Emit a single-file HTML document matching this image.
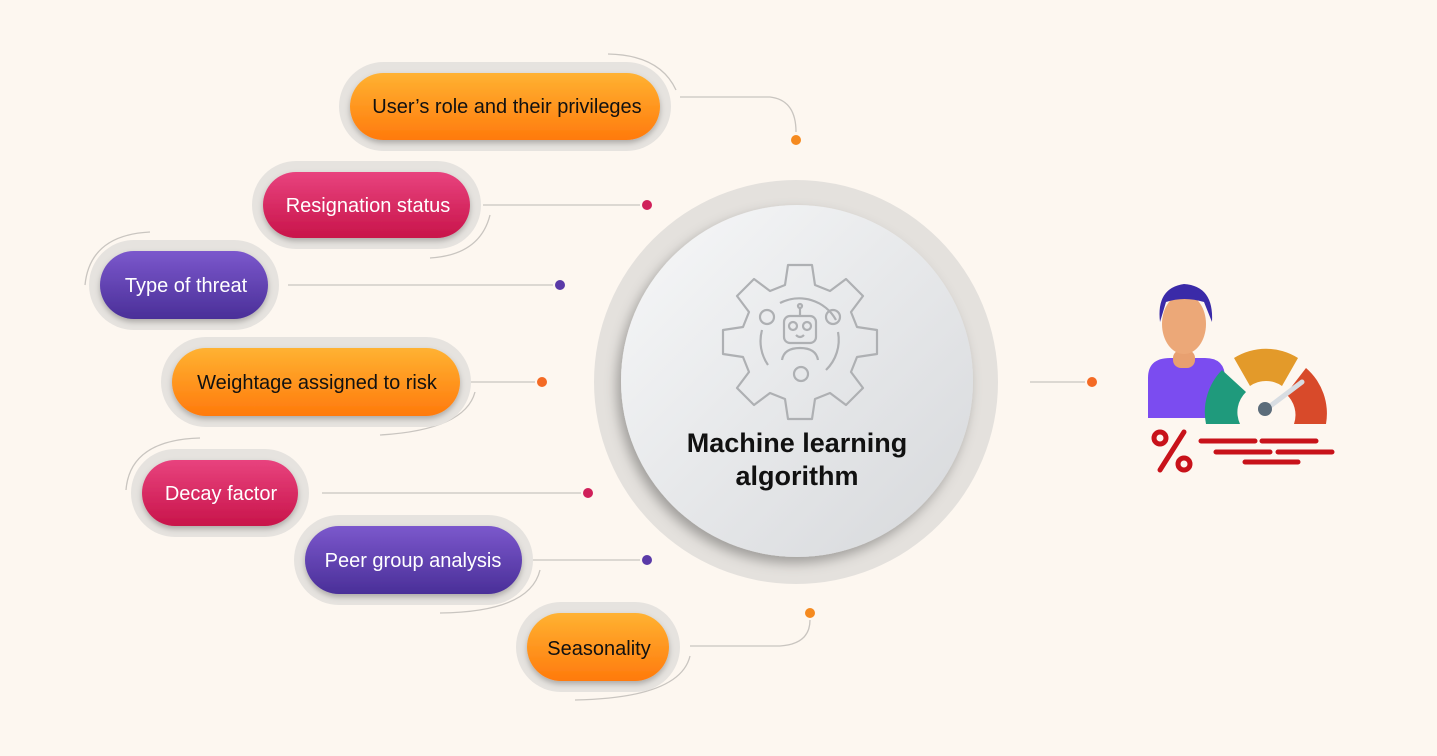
<!DOCTYPE html>
<html><head><meta charset="utf-8"><style>
html,body{margin:0;padding:0;background:#fdf7f0;}
svg{display:block}
text{font-family:"Liberation Sans",sans-serif;}
</style></head><body>
<svg width="1437" height="756" viewBox="0 0 1437 756" xmlns="http://www.w3.org/2000/svg">
<defs>
<linearGradient id="or" x1="0" y1="0" x2="0" y2="1"><stop offset="0" stop-color="#ffb232"/><stop offset="1" stop-color="#ff7a0c"/></linearGradient>
<linearGradient id="pk" x1="0" y1="0" x2="0" y2="1"><stop offset="0" stop-color="#e8437e"/><stop offset="1" stop-color="#c8144a"/></linearGradient>
<linearGradient id="pu" x1="0" y1="0" x2="0" y2="1"><stop offset="0" stop-color="#7b58cc"/><stop offset="1" stop-color="#4a2f98"/></linearGradient>
<linearGradient id="cg" x1="0" y1="0" x2="1" y2="1"><stop offset="0" stop-color="#f7f8f9"/><stop offset="1" stop-color="#d6d8db"/></linearGradient>
<filter id="sh" x="-20%" y="-20%" width="140%" height="150%"><feDropShadow dx="0" dy="3" stdDeviation="3" flood-color="#000" flood-opacity="0.25"/></filter>
<filter id="sh2" x="-20%" y="-20%" width="140%" height="140%"><feDropShadow dx="-4" dy="6" stdDeviation="6" flood-color="#000" flood-opacity="0.3"/></filter>
</defs>

<g fill="none" stroke="#c9c5c0" stroke-width="1.3">
<path d="M680 97 H770 Q796 100 796 132"/>
<path d="M608 54 Q660 55 676 90"/>
<path d="M483 205 H640"/>
<path d="M490 215 Q480 255 430 258"/>
<path d="M288 285 H553"/>
<path d="M85 285 Q90 235 150 232"/>
<path d="M465 382 H535"/>
<path d="M475 392 Q465 430 380 435"/>
<path d="M322 493 H581"/>
<path d="M126 490 Q130 440 200 438"/>
<path d="M530 560 H640"/>
<path d="M540 570 Q530 612 440 613"/>
<path d="M690 646 H780 Q810 644 810 620"/>
<path d="M690 656 Q680 698 575 700"/>
<path d="M1030 382 H1085"/>
</g>
<g>
<circle cx="796" cy="140" r="5" fill="#f58a1f"/>
<circle cx="647" cy="205" r="5" fill="#d0205a"/>
<circle cx="560" cy="285" r="5" fill="#5a3aa8"/>
<circle cx="542" cy="382" r="5" fill="#f46a24"/>
<circle cx="588" cy="493" r="5" fill="#d0205a"/>
<circle cx="647" cy="560" r="5" fill="#5a3aa8"/>
<circle cx="810" cy="613" r="5" fill="#f58a1f"/>
<circle cx="1092" cy="382" r="5" fill="#f46a24"/>
</g>

<g>
<rect x="339" y="62" width="332" height="89" rx="44.5" fill="#e6e3df"/>
<rect x="350" y="73" width="310" height="67" rx="33.5" fill="url(#or)" filter="url(#sh)"/>
<text x="507" y="113" font-size="20" text-anchor="middle" fill="#111">User’s role and their privileges</text>

<rect x="252" y="161" width="229" height="88" rx="44" fill="#e6e3df"/>
<rect x="263" y="172" width="207" height="66" rx="33" fill="url(#pk)" filter="url(#sh)"/>
<text x="368" y="212" font-size="20" text-anchor="middle" fill="#fff">Resignation status</text>

<rect x="89" y="240" width="190" height="90" rx="45" fill="#e6e3df"/>
<rect x="100" y="251" width="168" height="68" rx="34" fill="url(#pu)" filter="url(#sh)"/>
<text x="186" y="292" font-size="20" text-anchor="middle" fill="#fff">Type of threat</text>

<rect x="161" y="337" width="310" height="90" rx="45" fill="#e6e3df"/>
<rect x="172" y="348" width="288" height="68" rx="34" fill="url(#or)" filter="url(#sh)"/>
<text x="317" y="389" font-size="20" text-anchor="middle" fill="#111">Weightage assigned to risk</text>

<rect x="131" y="449" width="178" height="88" rx="44" fill="#e6e3df"/>
<rect x="142" y="460" width="156" height="66" rx="33" fill="url(#pk)" filter="url(#sh)"/>
<text x="221" y="500" font-size="20" text-anchor="middle" fill="#fff">Decay factor</text>

<rect x="294" y="515" width="239" height="90" rx="45" fill="#e6e3df"/>
<rect x="305" y="526" width="217" height="68" rx="34" fill="url(#pu)" filter="url(#sh)"/>
<text x="413" y="567" font-size="20" text-anchor="middle" fill="#fff">Peer group analysis</text>

<rect x="516" y="602" width="164" height="90" rx="45" fill="#e6e3df"/>
<rect x="527" y="613" width="142" height="68" rx="34" fill="url(#or)" filter="url(#sh)"/>
<text x="599" y="655" font-size="20" text-anchor="middle" fill="#111">Seasonality</text>
</g>

<circle cx="796" cy="382" r="202" fill="#e4e1dd"/>
<circle cx="797" cy="381" r="176" fill="url(#cg)" filter="url(#sh2)"/>
<g fill="none" stroke="#aeb0b3" stroke-width="2.2" stroke-linejoin="round">
<path d="M788 265 L812 265 L815 285 L830 291 L846 279 L863 296 L851 312 L857 327 L877 330 L877 354 L857 357 L851 372 L863 388 L846 405 L830 393 L815 399 L812 419 L788 419 L785 399 L770 393 L754 405 L737 388 L749 372 L743 357 L723 354 L723 330 L743 327 L749 312 L737 296 L754 279 L770 291 L785 285 Z"/>
<path d="M780 303 A42 42 0 0 1 836 320"/>
<path d="M838 332 A42 42 0 0 1 826 370"/>
<path d="M762 330 A42 42 0 0 0 768 365"/>
<circle cx="767" cy="317" r="7"/><circle cx="833" cy="317" r="7"/><circle cx="801" cy="374" r="7"/>
<rect x="784" y="316" width="32" height="27" rx="6"/>
<circle cx="793" cy="326" r="4"/><circle cx="807" cy="326" r="4"/>
<path d="M796 335 Q800 339 804 335"/>
<path d="M800 316 V308"/><circle cx="800" cy="306" r="2"/>
<path d="M782 360 Q784 348 800 348 Q816 348 818 360"/>
</g>
<text x="797" y="452" font-size="27" font-weight="bold" text-anchor="middle" fill="#111">Machine learning</text>
<text x="797" y="485" font-size="27" font-weight="bold" text-anchor="middle" fill="#111">algorithm</text>

<g>
<path d="M1148 418 V378 Q1148 358 1170 358 H1205 Q1225 358 1225 378 V418 Z" fill="#7b4cf0"/>
<rect x="1173" y="350" width="22" height="18" rx="8" fill="#e8a070"/>
<ellipse cx="1184" cy="324" rx="22" ry="30" fill="#eca878"/>
<path d="M1160 322 Q1156 288 1184 284 Q1214 286 1212 322 L1204 302 Q1184 296 1166 302 Z" fill="#3a2aa8"/>
<path d="M1206 424 A60 60 0 0 1 1222 370 L1246 392 A28 28 0 0 0 1240 424 Z" fill="#1f9a7c"/>
<path d="M1234 358 A60 60 0 0 1 1298 358 L1282 386 A28 28 0 0 0 1250 386 Z" fill="#e39a2a"/>
<path d="M1306 368 A60 60 0 0 1 1326 424 L1294 424 A28 28 0 0 0 1286 394 Z" fill="#d84a2a"/>
<path d="M1265 410 L1302 382" stroke="#d8dde2" stroke-width="5" stroke-linecap="round"/>
<circle cx="1265" cy="409" r="7" fill="#5b6c7a"/>
<g stroke="#c8121a" stroke-width="5" stroke-linecap="round">
<path d="M1160 470 L1184 432"/>
<path d="M1201 441 H1255 M1262 441 H1316 M1216 452 H1270 M1278 452 H1332 M1245 462 H1298"/>
</g>
<circle cx="1160" cy="438" r="6" fill="none" stroke="#c8121a" stroke-width="5"/>
<circle cx="1184" cy="464" r="6" fill="none" stroke="#c8121a" stroke-width="5"/>
</g>
</svg>
</body></html>
